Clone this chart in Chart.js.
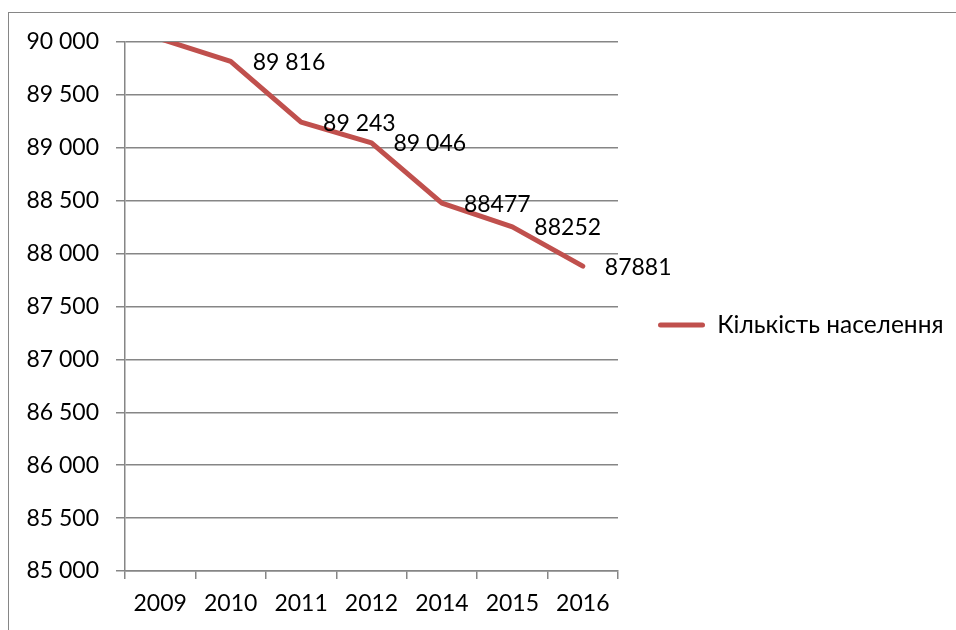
<!DOCTYPE html>
<html>
<head>
<meta charset="utf-8">
<script src="https://cdn.jsdelivr.net/npm/chart.js@4/dist/chart.umd.min.js"></script>
<style>
  html, body { margin: 0; padding: 0; background: #fff; }
  body { width: 956px; height: 630px; position: relative; overflow: hidden; }
  #frame { position: absolute; left: 8px; top: 12px; width: 1000px; height: 700px;
           border-left: 1.5px solid #868686; border-top: 1.5px solid #868686; }
  #wrap { position: absolute; left: 0; top: 0; width: 956px; height: 630px; }
</style>
</head>
<body>
<div id="frame"></div>
<div id="wrap"><canvas id="c" width="956" height="630"></canvas></div>
<script>
const categories = ['2009', '2010', '2011', '2012', '2014', '2015', '2016'];
const population = [90030, 89816, 89243, 89046, 88477, 88252, 87881];
const valueLabels = ['', '89 816', '89 243', '89 046', '88477', '88252', '87881'];
const seriesName = 'Кількість населення';
const yMin = 85000, yMax = 90000, yStep = 500;

const FONT = 'Lato, "Open Sans", sans-serif';
const FS = 23;
const LEG_FS = 24.5;
const RED = '#C0504D';
const GRID = '#868686';

function fmt(v) {
  const s = String(Math.round(v));
  return s.replace(/\B(?=(\d{3})+(?!\d))/g, ' ');
}

// legend geometry: chart area right edge target and legend padding
const LEG_PAD = 40, LEG_BOX = 47, AREA_RIGHT = 618;
const mctx = document.createElement('canvas').getContext('2d');
mctx.font = LEG_FS + 'px ' + FONT;
const legTextW = mctx.measureText(seriesName).width;
const legWidth = LEG_PAD + LEG_BOX + LEG_FS / 2 + legTextW + 10;
const rightPad = Math.max(0, 956 - AREA_RIGHT - legWidth);

const labelPlugin = {
  id: 'pointLabels',
  afterDatasetsDraw(chart) {
    const ctx = chart.ctx;
    const meta = chart.getDatasetMeta(0);
    const area = chart.chartArea;
    ctx.save();
    ctx.font = FS + 'px ' + FONT;
    ctx.fillStyle = '#000';
    ctx.textAlign = 'left';
    ctx.textBaseline = 'middle';
    meta.data.forEach((pt, i) => {
      const t = valueLabels[i];
      if (!t) return;
      if (pt.y < area.top || pt.y > area.bottom) return;
      ctx.fillText(t, pt.x + 22, pt.y + 1);
    });
    ctx.restore();
  }
};

new Chart(document.getElementById('c'), {
  type: 'line',
  data: {
    labels: categories,
    datasets: [{
      label: seriesName,
      data: population,
      borderColor: RED,
      backgroundColor: RED,
      borderWidth: 5,
      pointRadius: 0,
      pointHoverRadius: 0,
      tension: 0,
      borderJoinStyle: 'round',
      borderCapStyle: 'round',
      clip: 0
    }]
  },
  options: {
    responsive: false,
    animation: false,
    events: [],
    layout: { padding: { top: 20, left: 0, right: rightPad, bottom: 0 } },
    plugins: {
      title: {
        display: true,
        text: '',
        fullSize: false,
        position: 'top',
        padding: 0,
        font: { size: 22, lineHeight: 1 }
      },
      legend: {
        display: true,
        position: 'right',
        align: 'center',
        maxWidth: 956 - AREA_RIGHT - rightPad,
        labels: {
          font: { family: FONT, size: LEG_FS },
          color: '#000',
          padding: LEG_PAD,
          boxWidth: LEG_BOX,
          boxHeight: 5,
          useBorderRadius: true,
          borderRadius: 2.5,
          generateLabels(chart) {
            const ds = chart.data.datasets[0];
            return [{
              text: ds.label,
              fillStyle: ds.borderColor,
              strokeStyle: ds.borderColor,
              lineWidth: 0,
              borderRadius: 2.5,
              hidden: false,
              datasetIndex: 0
            }];
          }
        }
      },
      tooltip: { enabled: false }
    },
    scales: {
      x: {
        type: 'category',
        offset: true,
        grid: {
          display: true,
          offset: true,
          drawOnChartArea: false,
          drawTicks: true,
          tickLength: 8,
          color: GRID,
          lineWidth: 1.5
        },
        border: { display: true, color: GRID, width: 1.5 },
        ticks: {
          color: '#000',
          font: { family: FONT, size: FS },
          padding: 11,
          maxRotation: 0,
          autoSkip: false
        },
        afterFit(scale) { scale.height = 59; }
      },
      y: {
        min: yMin,
        max: yMax,
        grid: {
          color: GRID,
          lineWidth: 1.5,
          drawTicks: true,
          tickLength: 9
        },
        border: { display: true, color: GRID, width: 1.5 },
        ticks: {
          stepSize: yStep,
          color: '#000',
          font: { family: FONT, size: FS },
          padding: 17,
          callback: (v) => fmt(v)
        },
        afterFit(scale) { scale.width = 125; }
      }
    }
  },
  plugins: [labelPlugin]
});
</script>
</body>
</html>
